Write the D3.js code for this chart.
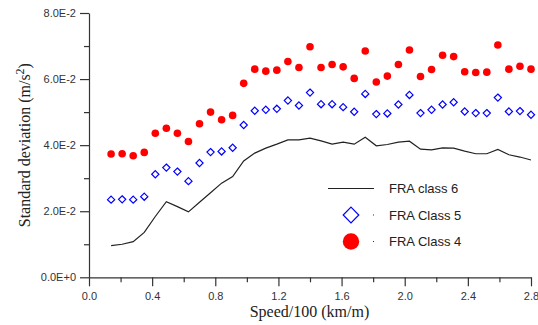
<!DOCTYPE html>
<html>
<head>
<meta charset="utf-8">
<script src="https://cdn.jsdelivr.net/npm/d3@7"></script>
<style>
  body { margin: 0; background: #fff; }
  svg { display: block; }
  .tick text { font-family: "Liberation Sans", Arial, sans-serif; font-size: 11px; fill: #333; }
</style>
</head>
<body>
<div id="chart"></div>
<script>
// speed / 100 (km/h)
const speed = [0.14, 0.21, 0.28, 0.35, 0.42, 0.49, 0.56, 0.63, 0.70, 0.77,
  0.84, 0.91, 0.98, 1.05, 1.12, 1.19, 1.26, 1.33, 1.40, 1.47,
  1.54, 1.61, 1.68, 1.75, 1.82, 1.89, 1.96, 2.03, 2.10, 2.17,
  2.24, 2.31, 2.38, 2.45, 2.52, 2.59, 2.66, 2.73, 2.80];

const class6 = [0.0096, 0.0100, 0.0108, 0.0136, 0.0184, 0.0229, 0.0214, 0.0198, 0.0227, 0.0256,
  0.0285, 0.0305, 0.0352, 0.0376, 0.0391, 0.0403, 0.0416, 0.0416, 0.0421, 0.0413,
  0.0403, 0.0409, 0.0403, 0.0424, 0.0398, 0.0402, 0.0409, 0.0412, 0.0388, 0.0386,
  0.0392, 0.0391, 0.0382, 0.0374, 0.0374, 0.0387, 0.0371, 0.0364, 0.0355];

const class5 = [0.0235, 0.0236, 0.0235, 0.0244, 0.0312, 0.0332, 0.0320, 0.0291, 0.0346, 0.0379,
  0.0381, 0.0392, 0.0461, 0.0504, 0.0507, 0.0510, 0.0535, 0.0520, 0.0559, 0.0524,
  0.0524, 0.0515, 0.0501, 0.0555, 0.0494, 0.0496, 0.0523, 0.0552, 0.0497, 0.0507,
  0.0523, 0.0530, 0.0502, 0.0497, 0.0497, 0.0544, 0.0502, 0.0503, 0.0492];

const class4 = [0.0373, 0.0374, 0.0368, 0.0378, 0.0436, 0.0451, 0.0436, 0.0411, 0.0465, 0.0500,
  0.0477, 0.0490, 0.0587, 0.0630, 0.0624, 0.0627, 0.0653, 0.0635, 0.0698, 0.0635,
  0.0644, 0.0637, 0.0602, 0.0685, 0.0591, 0.0609, 0.0644, 0.0688, 0.0608, 0.0629,
  0.0672, 0.0668, 0.0622, 0.0620, 0.0621, 0.0703, 0.0630, 0.0639, 0.0630];

const xTicks = [0, 0.4, 0.8, 1.2, 1.6, 2.0, 2.4, 2.8];
const yTicks = [0, 0.02, 0.04, 0.06, 0.08];
const legendLabels = ["FRA class 6", "FRA Class 5", "FRA Class 4"];

const width = 538, height = 325;
const plotL = 89, plotR = 531, plotT = 13, plotB = 277.3;

const svg = d3.select('#chart').append('svg')
  .attr('width', width)
  .attr('height', height);

const x = d3.scaleLinear().domain([0, 2.8]).range([plotL, plotR]);
const y = d3.scaleLinear().domain([0, 0.08]).range([plotB, plotT]);

const sciFormat = v => {
  if (v === 0) return '0.0E+0';
  const e = Math.floor(Math.log10(v) + 1e-9);
  return (v / Math.pow(10, e)).toFixed(1) + 'E' + e;
};

// x axis: major + minor
const xMinor = d3.range(0.2, 2.8, 0.4);
svg.append('g')
  .attr('transform', `translate(0,${plotB})`)
  .call(d3.axisBottom(x).tickValues(xMinor).tickSize(5).tickFormat(''))
  .call(g => g.select('.domain').remove());
svg.append('g')
  .attr('transform', `translate(0,${plotB})`)
  .call(d3.axisBottom(x).tickValues(xTicks).tickSize(9).tickPadding(6).tickSizeOuter(0)
    .tickFormat(d3.format('.1f')));

// y axis: major + minor
const yMinor = d3.range(0.01, 0.08, 0.02);
svg.append('g')
  .attr('transform', `translate(${plotL},0)`)
  .call(d3.axisLeft(y).tickValues(yMinor).tickSize(5).tickFormat(''))
  .call(g => g.select('.domain').remove());
svg.append('g')
  .attr('transform', `translate(${plotL},0)`)
  .call(d3.axisLeft(y).tickValues(yTicks).tickSize(9).tickPadding(4).tickSizeOuter(0)
    .tickFormat(sciFormat));

svg.selectAll('.domain, .tick line').attr('stroke', '#333').attr('stroke-width', 1.2);

// axis titles
svg.append('text')
  .attr('x', (plotL + plotR) / 2 - 0.5)
  .attr('y', 317)
  .attr('text-anchor', 'middle')
  .style('font-family', '"Liberation Serif", "Times New Roman", serif')
  .style('font-size', '16px')
  .attr('fill', '#222')
  .text('Speed/100 (km/m)');

const yt = svg.append('text')
  .attr('transform', `translate(30,${(plotT + plotB) / 2}) rotate(-90)`)
  .attr('text-anchor', 'middle')
  .style('font-family', '"Liberation Serif", "Times New Roman", serif')
  .style('font-size', '16px')
  .attr('fill', '#222');
yt.append('tspan').text('Standard deviation (m/s');
yt.append('tspan').attr('dy', -6).style('font-size', '12px').text('2');
yt.append('tspan').attr('dy', 6).text(')');

// class 6 line
const line = d3.line()
  .x((d, i) => x(speed[i]))
  .y(d => y(d));
svg.append('path')
  .datum(class6)
  .attr('fill', 'none')
  .attr('stroke', '#222')
  .attr('stroke-width', 1.2)
  .attr('d', line);

// class 5 diamonds
const diamond = r => `M0,${-r}L${r},0L0,${r}L${-r},0Z`;
svg.append('g').selectAll('path')
  .data(class5)
  .join('path')
  .attr('transform', (d, i) => `translate(${x(speed[i])},${y(d)})`)
  .attr('d', diamond(3.6))
  .attr('fill', 'none')
  .attr('stroke', '#0000ff')
  .attr('stroke-width', 1.2);

// class 4 circles
svg.append('g').selectAll('circle')
  .data(class4)
  .join('circle')
  .attr('cx', (d, i) => x(speed[i]))
  .attr('cy', d => y(d))
  .attr('r', 3.8)
  .attr('fill', '#ff0000');

// legend
const lg = svg.append('g');
const lx = 351, ly = [188.5, 215, 241.5];
lg.append('line')
  .attr('x1', lx - 23).attr('x2', lx + 23)
  .attr('y1', ly[0]).attr('y2', ly[0])
  .attr('stroke', '#222').attr('stroke-width', 1.2);
lg.append('path')
  .attr('transform', `translate(${lx},${ly[1]})`)
  .attr('d', diamond(7.8))
  .attr('fill', 'none')
  .attr('stroke', '#0000ff')
  .attr('stroke-width', 1.2);
lg.append('circle')
  .attr('cx', lx).attr('cy', ly[2]).attr('r', 8.2)
  .attr('fill', '#ff0000');
[1, 2].forEach(i => {
  lg.append('rect').attr('x', 373).attr('y', ly[i] - 0.5).attr('width', 1).attr('height', 1).attr('fill', '#333');
});
lg.selectAll('text')
  .data(legendLabels)
  .join('text')
  .attr('x', 389)
  .attr('y', (d, i) => ly[i] + 4.8)
  .style('font-family', '"Liberation Sans", Arial, sans-serif')
  .style('font-size', '13px')
  .attr('fill', '#222')
  .text(d => d);
</script>
</body>
</html>
